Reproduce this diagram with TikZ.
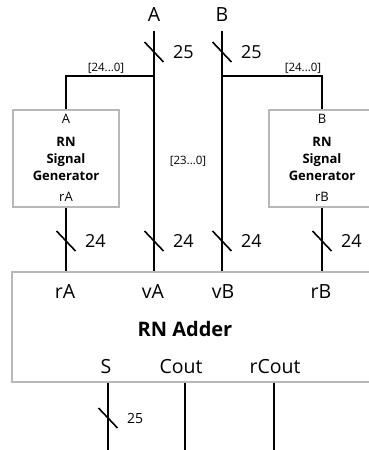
\documentclass[tikz,border=0pt]{standalone}
\usepackage{fontspec}
\setmainfont{Open Sans}
\usetikzlibrary{arrows.meta,positioning}

\tikzset{
  bus/.style={line width=2.6pt},
  thinbus/.style={line width=2pt},
  slashmark/.style={line width=1.6pt},
  blk/.style={draw=black!28, line width=1.6pt, fill=white},
  port/.style={font=\fontsize{19.5}{22}\selectfont, inner sep=0pt},
  widthlbl/.style={font=\fontsize{18}{20}\selectfont, inner sep=0pt},
  smallwidthlbl/.style={font=\fontsize{14}{16}\selectfont, inner sep=0pt},
  rangelbl/.style={font=\fontsize{11.5}{13}\selectfont, inner sep=0pt},
  gen/.style={font=\fontsize{13}{17}\selectfont, align=center, inner sep=0pt},
}
\newcommand{\busmark}[4][widthlbl]{%
  \draw[slashmark] ([shift={(-9.5,-10)}]#3) -- ([shift={(9.5,10)}]#3);
  \node[#1,anchor=west] (#2) at ([xshift=19pt]#3) {#4};}

\begin{document}
\begin{tikzpicture}[x=1pt,y=-1pt]
\useasboundingbox (0,0) rectangle (369,450);
\clip (0,0) rectangle (369,450);
\node[port] (A) at (154,15) {A};
\node[port] (B) at (222,15) {B};
\coordinate (Atop) at (154,31);
\coordinate (Btop) at (222,31);
\coordinate (Asplit) at (154,76);
\coordinate (Bsplit) at (222,76);

\node[blk, minimum width=106, minimum height=97] (genA) at (66,158.5) {};
\node[blk, minimum width=106, minimum height=97] (genB) at (322,158.5) {};
\foreach \g/\x/\i/\o in {genA/66/A/rA, genB/322/B/rB} {
  \node[gen] (\g in) at (\x,119) {\i};
  \node[gen,font=\fontsize{13}{17}\selectfont\bfseries] (\g name) at (\x,159) {RN\\Signal\\Generator};
  \node[gen] (\g out) at (\x,197) {\o};
}

\node[blk, minimum width=380, minimum height=110] (add) at (202,327) {};
\foreach \n/\x/\t in {inrA/65/rA, invA/153/vA, invB/223/vB, inrB/321/rB}
  \node[port] (\n) at (\x,292) {\t};
\node[font=\fontsize{20}{24}\selectfont\bfseries] (addname) at (185,329) {RN Adder};
\foreach \n/\x/\t in {outS/106/S, outC/181/Cout, outrC/275/rCout}
  \node[port] (\n) at (\x,367) {\t};
\coordinate (Send) at (108,450);
\coordinate (Cend) at (185,450);
\coordinate (rCend) at (274,450);

\draw[bus] (Atop) -- (Asplit);
\draw[bus] (Btop) -- (Bsplit);
\draw[thinbus] (Asplit) -| (genA.north);
\draw[bus] (Bsplit) -| (genB.north);
\draw[thinbus] (Asplit) -- (Asplit |- add.north);
\draw[thinbus] (Bsplit) -- (Bsplit |- add.north);
\draw[bus] (genA.south) -- (genA.south |- add.north);
\draw[bus] (genB.south) -- (genB.south |- add.north);
\foreach \e in {Send, Cend, rCend}
  \draw[bus] (\e |- add.south) -- (\e);

\node[rangelbl] (rngA) at (106,68) {[24...0]};
\node[rangelbl] (rngB) at (303,68) {[24...0]};
\node[rangelbl] (rngV) at (188,161) {[23...0]};

\busmark{wA}{154,52}{25}
\busmark{wB}{222,52}{25}
\foreach \x in {66,154,222,322} {
  \busmark{w\x}{\x,241}{24}
}
\busmark[smallwidthlbl]{wS}{108,418}{25}
\end{tikzpicture}
\end{document}
